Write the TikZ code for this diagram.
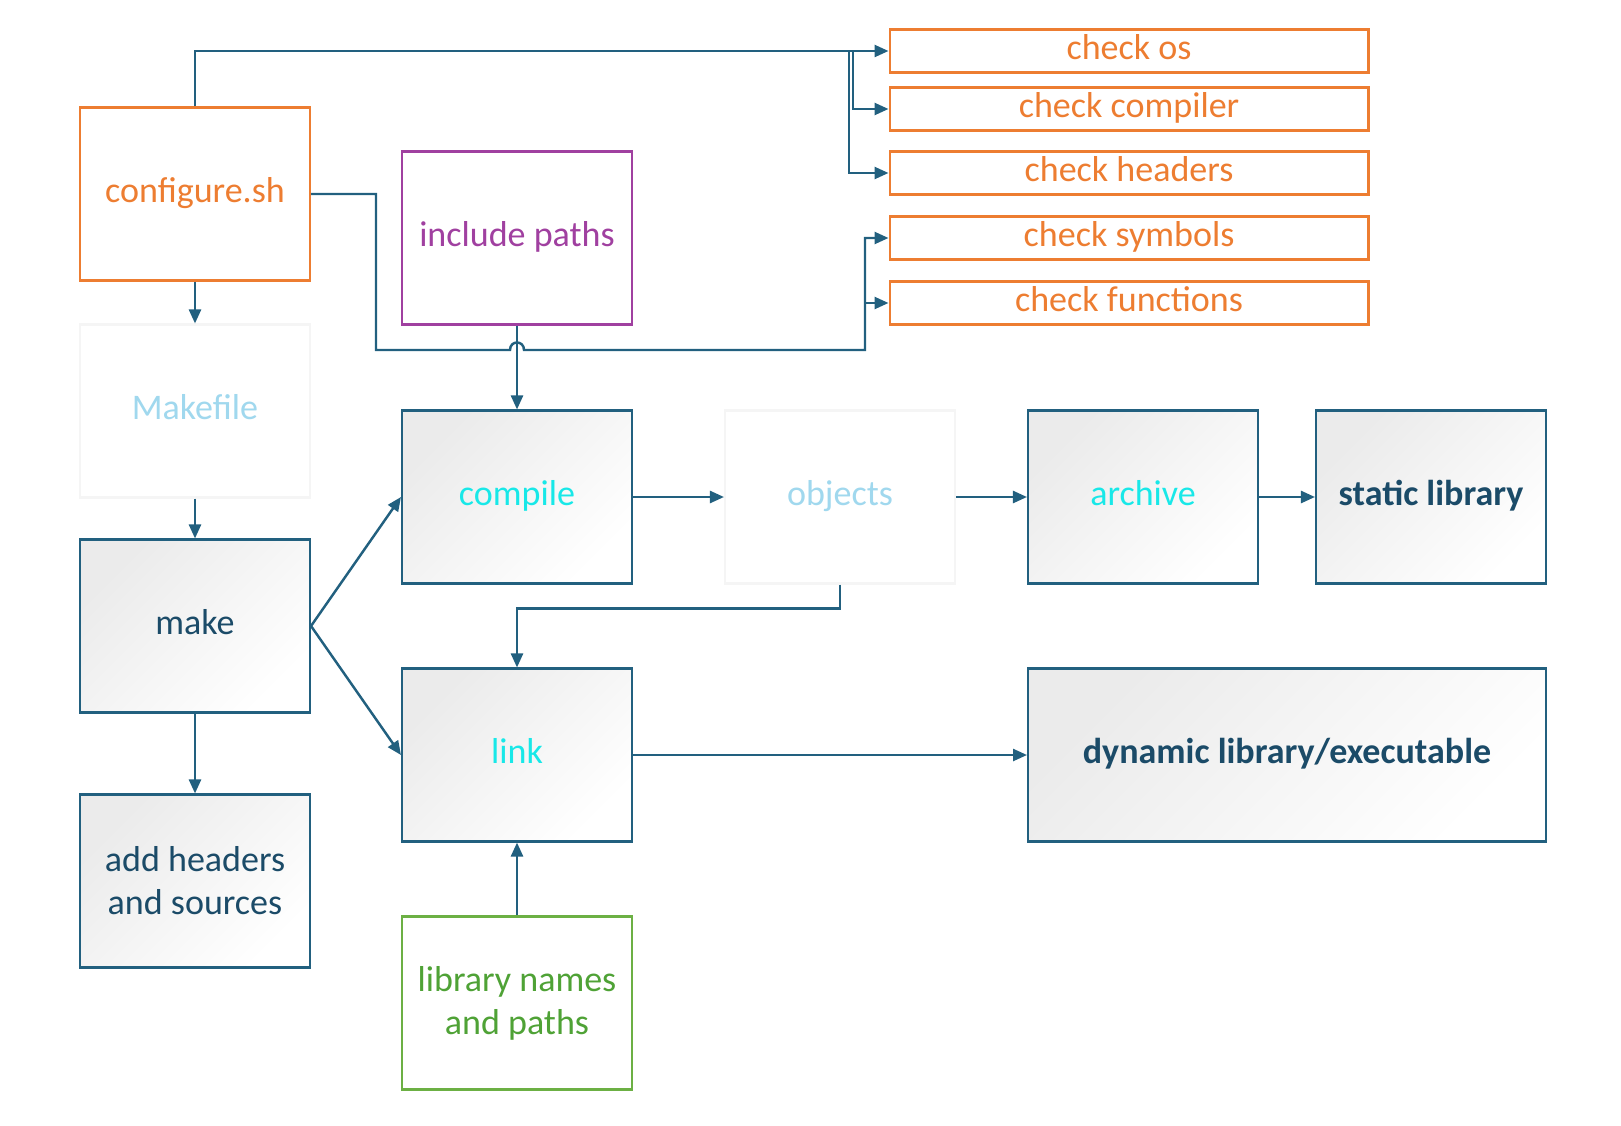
\documentclass[tikz,border=0pt]{standalone}
\usepackage{fontspec}
\setmainfont{Carlito}
\usepackage{tikz}
\usetikzlibrary{positioning}
\usetikzlibrary{arrows.meta}
\usepackage{xcolor}
\definecolor{linec}{HTML}{22607F}
\definecolor{darktext}{HTML}{1B4B68}
\definecolor{orangec}{HTML}{ED7D31}
\definecolor{purplec}{HTML}{A040A0}
\definecolor{greenc}{HTML}{6CB044}
\definecolor{greentext}{HTML}{4FA236}
\definecolor{cyanc}{HTML}{18E8E8}
\definecolor{paletext}{HTML}{A0D8EE}
\begin{document}
\begin{tikzpicture}[x=0.02cm, y=-0.02cm,
    font=\fontsize{20.5}{24.5}\selectfont,
    >={Triangle[length=2.8mm,width=2.4mm]},
    box/.style={minimum width=4.6cm, minimum height=3.46cm, align=center, line width=1.2pt},
    oneline/.style={text height=14pt, text depth=4pt},
    shadedbox/.style={box, draw=linec, top color=black!8, middle color=white, bottom color=white, shading angle=45},
    palebox/.style={box, draw=black!4, fill=white},
    checkbox/.style={draw=orangec, line width=1.2pt, text=orangec, minimum width=9.58cm, minimum height=0.86cm, inner sep=0pt, oneline},
    conn/.style={linec, line width=1.4pt, ->}]
	\useasboundingbox (0,0) rectangle (1621,1125);
	% left column
	\node[box, oneline, draw=orangec, text=orangec] (configure) at (195,194) {configure.sh};
	\node[palebox, oneline, text=paletext] (makefile) at (195,411) {Makefile};
	\node[shadedbox, oneline, text=darktext] (make) at (195,626) {make};
	\node[shadedbox, text=darktext] (addhdr) at (195,881) {add headers\\and sources};
	% middle column
	\node[box, oneline, draw=purplec, text=purplec] (incl) at (517,238) {include paths};
	\node[shadedbox, oneline, text=cyanc] (compile) at (517,497) {compile};
	\node[shadedbox, oneline, text=cyanc] (link) at (517,755) {link};
	\node[box, draw=greenc, text=greentext] (libnames) at (517,1003) {library names\\and paths};
	% right part
	\node[palebox, oneline, text=paletext] (objects) at (840,497) {objects};
	\node[shadedbox, oneline, text=cyanc] (archive) at (1143,497) {archive};
	\node[shadedbox, oneline, text=darktext, font=\fontsize{20.5}{24.5}\selectfont\bfseries] (static) at (1431,497) {static library};
	\node[shadedbox, oneline, minimum width=10.36cm, text=darktext, font=\fontsize{20.5}{24.5}\selectfont\bfseries] (dynamic) at (1287,755) {dynamic library/executable};
	% checks
	\node[checkbox] (chkos) at (1129,51) {check os};
	\node[checkbox] (chkcomp) at (1129,109) {check compiler};
	\node[checkbox] (chkhdr) at (1129,173) {check headers};
	\node[checkbox] (chksym) at (1129,238) {check symbols};
	\node[checkbox] (chkfun) at (1129,303) {check functions};
	\coordinate (br1) at (853,51);
	\coordinate (br2) at (849,51);
	\coordinate (br3) at (865,303);
	% connectors
	\draw[conn] (configure.north) |- (chkos.west);
	\draw[conn] (br1) |- (chkcomp.west);
	\draw[conn] (br2) |- (chkhdr.west);
	\draw[conn] (configure.east) -| (376,350) -- (510,350) .. controls (510,340) and (524,340) .. (524,350) -| (br3) |- (chksym.west);
	\draw[conn] (br3) -- (chkfun.west);
	\draw[conn] (incl) -- (compile);
	\draw[conn] (configure) -- (makefile);
	\draw[conn] (makefile) -- (make);
	\draw[conn] (make) -- (addhdr);
	\draw[conn] (make.east) -- (compile.west);
	\draw[conn] (make.east) -- (link.west);
	\draw[conn] (compile) -- (objects);
	\draw[conn] (objects) -- (archive);
	\draw[conn] (archive) -- (static);
	\draw[conn] (objects.south) -- ++(0,24) -| (link.north);
	\draw[conn] (link) -- (dynamic);
	\draw[conn] (libnames) -- (link);
\end{tikzpicture}
\end{document}
